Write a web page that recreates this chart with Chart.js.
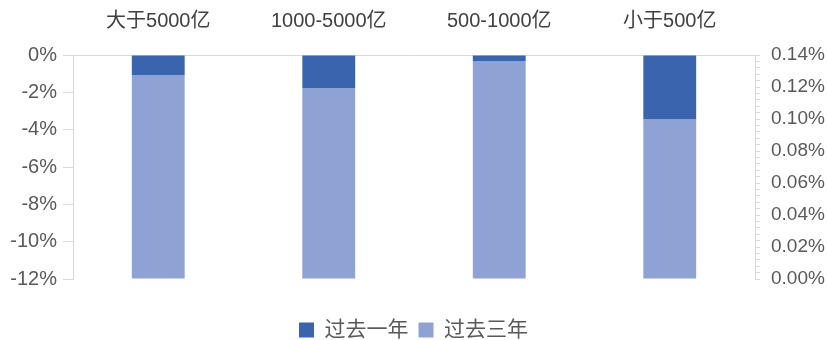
<!DOCTYPE html>
<html>
<head>
<meta charset="utf-8">
<script src="https://cdn.jsdelivr.net/npm/chart.js@4"></script>
<style>
  html, body { margin: 0; padding: 0; background: #fff; }
  #wrap { width: 827px; height: 340px; }
</style>
</head>
<body>
<div id="wrap"><canvas id="chart"></canvas></div>
<script>
var categories = ['大于5000亿', '1000-5000亿', '500-1000亿', '小于500亿'];
// 过去一年, left axis (%)
var pastYear = [-1.07, -1.77, -0.32, -3.43];
// 过去三年, right axis (%)
var pastThreeYears = [0.1275, 0.1194, 0.1363, 0.1000];

var fontFamily = '"Liberation Sans", "Noto Sans CJK SC", sans-serif';
var textColor = '#595959';
var lineColor = '#d9d9d9';

function isMajor(v) {
  var r = v / 0.02;
  return Math.abs(r - Math.round(r)) < 1e-6;
}

new Chart(document.getElementById('chart'), {
  type: 'bar',
  data: {
    labels: categories,
    datasets: [
      { label: '过去一年', data: pastYear, yAxisID: 'y', backgroundColor: '#3A64AE', grouped: false },
      { label: '过去三年', data: pastThreeYears, yAxisID: 'y1', backgroundColor: '#8FA2D4', grouped: false },
    ],
  },
  options: {
    responsive: true,
    maintainAspectRatio: false,
    animation: false,
    categoryPercentage: 1,
    barPercentage: 0.31,
    layout: { padding: 0 },
    scales: {
      x: {
        position: 'top',
        grid: { display: false, drawTicks: false },
        border: { display: true, color: lineColor },
        ticks: { color: '#404040', padding: 22, font: { family: fontFamily, size: 20 } },
        afterFit: function (s) { s.height = 55; },
      },
      y: {
        position: 'left',
        min: -12, max: 0,
        grid: { drawOnChartArea: false, drawTicks: true, tickLength: 10, tickColor: lineColor },
        border: { display: true, color: lineColor },
        ticks: {
          stepSize: 2, color: textColor, padding: 6,
          font: { family: fontFamily, size: 20 },
          callback: function (v) { return v + '%'; },
        },
        afterFit: function (s) { s.width = 73; },
      },
      y1: {
        position: 'right',
        min: 0, max: 0.14,
        grid: { drawOnChartArea: false, drawTicks: true, tickLength: 5, tickColor: lineColor },
        border: { display: true, color: lineColor },
        ticks: {
          stepSize: 0.004, autoSkip: false, color: textColor, padding: 11,
          font: { family: fontFamily, size: 19 },
          callback: function (v) { return isMajor(v) ? v.toFixed(2) + '%' : ''; },
        },
        afterFit: function (s) { s.width = 72; },
      },
    },
    plugins: {
      legend: {
        position: 'bottom',
        maxHeight: 61,
        title: { display: true, text: '', font: { size: 10 }, padding: { top: 18.5, bottom: 0 } },
        labels: {
          color: textColor, boxWidth: 15, boxHeight: 15, padding: 10,
          font: { family: fontFamily, size: 21 },
        },
      },
      tooltip: { enabled: false },
    },
  },
});
</script>
</body>
</html>
